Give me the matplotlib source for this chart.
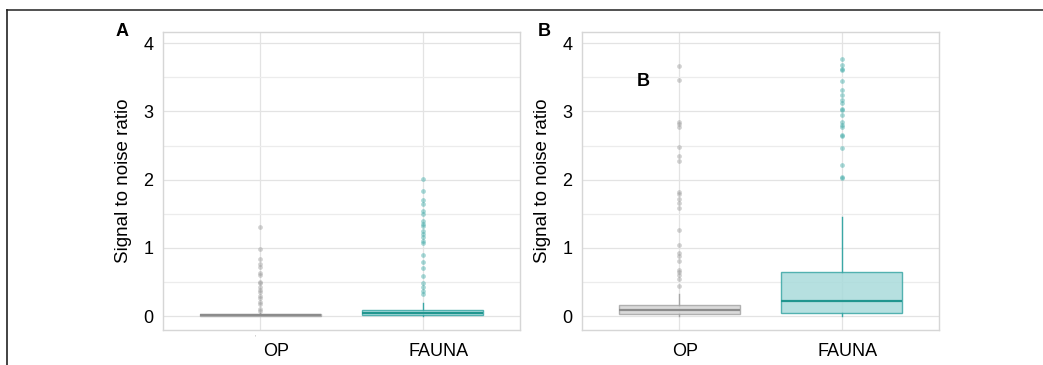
import matplotlib
matplotlib.use("Agg")
import matplotlib.pyplot as plt
import matplotlib.transforms as mtransforms
from matplotlib.lines import Line2D

plt.rcParams["font.family"] = ["Liberation Sans", "DejaVu Sans"]

categories = ["OP", "FAUNA"]
y_ticks = [0, 1, 2, 3, 4]
y_label = "Signal to noise ratio"

# Panel A: box statistics (low whisker, q1, median, q3, high whisker) and outliers
a_op_stats = [0.0, 0.0, 0.012, 0.035, 0.05]
a_op_outliers = [1.30, 0.99, 0.84, 0.77, 0.72, 0.63, 0.60, 0.50, 0.48, 0.42,
                 0.38, 0.35, 0.29, 0.26, 0.21, 0.18, 0.11, 0.08]
a_fauna_stats = [0.0, 0.02, 0.045, 0.09, 0.19]
a_fauna_outliers = [2.01, 1.84, 1.70, 1.65, 1.54, 1.50, 1.40, 1.35, 1.32, 1.25,
                    1.21, 1.16, 1.10, 1.07, 0.89, 0.79, 0.71, 0.58, 0.49, 0.42,
                    0.37, 0.32]

# Panel B
b_op_stats = [0.0, 0.025, 0.09, 0.16, 0.32]
b_op_outliers = [3.67, 3.46, 2.85, 2.82, 2.77, 2.48, 2.34, 2.28, 1.82, 1.79,
                 1.71, 1.66, 1.59, 1.26, 1.04, 0.93, 0.88, 0.81, 0.67, 0.64,
                 0.60, 0.54, 0.44]
b_fauna_stats = [0.0, 0.05, 0.225, 0.65, 1.45]
b_fauna_outliers = [3.77, 3.68, 3.63, 3.61, 3.45, 3.32, 3.24, 3.17, 3.13, 3.04,
                    3.02, 2.95, 2.85, 2.80, 2.77, 2.66, 2.64, 2.47, 2.21, 2.04,
                    2.02]

styles = {
    "OP": dict(face="#d4d4d4", edge="#a6a6a6", median="#8c8c8c", point="#9a9a9a"),
    "FAUNA": dict(face="#a9dbdb", edge="#3aa7a5", median="#21968f", point="#3aa9a6"),
}


def make_stat(vals, fliers, label):
    lo, q1, med, q3, hi = vals
    return dict(whislo=lo, q1=q1, med=med, q3=q3, whishi=hi, fliers=fliers, label=label)


def draw_panel(ax, op_stats, op_out, fa_stats, fa_out, label_shift):
    ax.set_xlim(0.4, 2.6)
    ax.set_ylim(-0.205, 4.166)
    ax.set_yticks(y_ticks)
    ax.set_yticks([0.5, 1.5, 2.5, 3.5], minor=True)
    ax.grid(True, which="major", color="#e3e3e3", lw=0.9)
    ax.grid(True, which="minor", axis="y", color="#ececec", lw=0.9)
    ax.set_axisbelow(True)
    for s in ax.spines.values():
        s.set_color("#d6d6d6")
        s.set_linewidth(1.0)
    ax.tick_params(which="both", length=0)
    ax.tick_params(axis="y", labelsize=13, pad=7)
    ax.tick_params(axis="x", labelsize=13, pad=9)
    ax.set_ylabel(y_label, fontsize=13.5, labelpad=8)

    for pos, (name, st, out) in enumerate(
            [("OP", op_stats, op_out), ("FAUNA", fa_stats, fa_out)], start=1):
        c = styles[name]
        ax.bxp([make_stat(st, out, name)], positions=[pos], widths=0.75,
               patch_artist=True, showcaps=False,
               boxprops=dict(facecolor=c["face"], edgecolor=c["edge"], lw=1.0, alpha=0.85),
               whiskerprops=dict(color=c["edge"], lw=1.0),
               medianprops=dict(color=c["median"], lw=1.6),
               flierprops=dict(marker="o", markersize=3.4, markerfacecolor=c["point"],
                               markeredgecolor="none", alpha=0.45),
               zorder=3)
    ax.set_xticks([1, 2])
    ax.set_xticklabels(categories)
    offset = mtransforms.ScaledTranslation(label_shift / 100.0, 0, ax.figure.dpi_scale_trans)
    for lab in ax.get_xticklabels():
        lab.set_transform(lab.get_transform() + offset)


fig = plt.figure(figsize=(10.43, 3.65), dpi=100)
ax_a = fig.add_axes([163 / 1043, 1 - 330 / 365, 357 / 1043, 298 / 365])
ax_b = fig.add_axes([582 / 1043, 1 - 330 / 365, 357 / 1043, 298 / 365])

draw_panel(ax_a, a_op_stats, a_op_outliers, a_fauna_stats, a_fauna_outliers, 16)
draw_panel(ax_b, b_op_stats, b_op_outliers, b_fauna_stats, b_fauna_outliers, 6)

# panel letters
fig.text(122 / 1043, 1 - 32 / 365, "A", fontsize=13, fontweight="bold", ha="center", va="center")
fig.text(544 / 1043, 1 - 32 / 365, "B", fontsize=13, fontweight="bold", ha="center", va="center")
fig.text(643 / 1043, 1 - 81 / 365, "B", fontsize=13, fontweight="bold", ha="center", va="center")
fig.text(255 / 1043, 1 - 338 / 365, "'", fontsize=5, color="#aaaaaa", ha="center", va="center")

# outer frame lines (top and left)
fig.add_artist(Line2D([7 / 1043, 1.0], [1 - 10 / 365, 1 - 10 / 365], color="#333333", lw=1.2,
                      transform=fig.transFigure))
fig.add_artist(Line2D([7 / 1043, 7 / 1043], [1 - 10 / 365, 0.0], color="#222222", lw=1.2,
                      transform=fig.transFigure))

fig.savefig("out.png", dpi=100)
